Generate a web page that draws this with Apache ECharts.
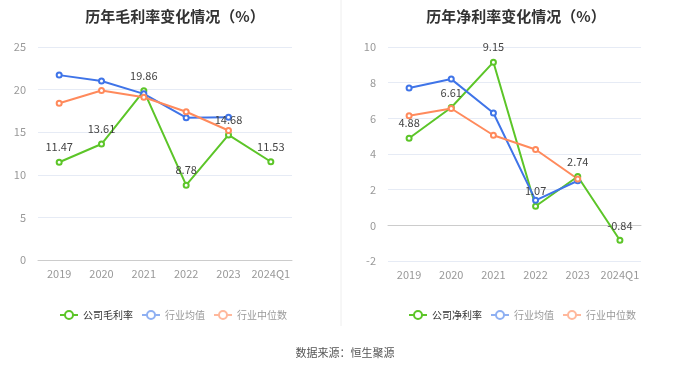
<!DOCTYPE html>
<html><head><meta charset="utf-8">
<script src="https://cdn.jsdelivr.net/npm/echarts@6/dist/echarts.min.js"></script>
<style>html,body{margin:0;padding:0;background:#fff}#c{width:680px;height:367px}</style>
</head><body><div id="c"></div>
<script>
const categories = ['2019','2020','2021','2022','2023','2024Q1'];
const grossCompany = [11.47, 13.61, 19.86, 8.78, 14.68, 11.53];
const grossAvg = [21.7, 21.0, 19.5, 16.7, 16.75, null];
const grossMedian = [18.4, 19.9, 19.1, 17.4, 15.2, null];
const netCompany = [4.88, 6.61, 9.15, 1.07, 2.74, -0.84];
const netAvg = [7.7, 8.2, 6.3, 1.4, 2.5, null];
const netMedian = [6.15, 6.55, 5.05, 4.25, 2.6, null];

const GREEN = '#5cc528', BLUE = '#3f74e8', ORANGE = '#ff8a5c';
const FONT = '"Noto Sans CJK SC", sans-serif';
const chart = echarts.init(document.getElementById('c'));

function mkSeries(name, data, color, xi, label) {
  return {
    name, type: 'line', data, xAxisIndex: xi, yAxisIndex: xi,
    symbol: 'emptyCircle', symbolSize: 5, showAllSymbol: true,
    lineStyle: {width: 2, color}, itemStyle: {color},
    label: label ? {show: true, position: 'top', color: '#444', fontSize: 11, fontFamily: FONT, distance: 6} : {show: false},
    emphasis: {disabled: true}
  };
}
function legendData(first) {
  return [
    {name: first, textStyle: {color: '#333'}},
    {name: '行业均值', textStyle: {color: '#999'}, itemStyle: {color: '#8fb0f2', borderColor: '#8fb0f2'}, lineStyle: {color: '#8fb0f2'}},
    {name: '行业中位数', textStyle: {color: '#999'}, itemStyle: {color: '#ffb89c', borderColor: '#ffb89c'}, lineStyle: {color: '#ffb89c'}}
  ];
}
const axisLabel = {color: '#999', fontSize: 11, fontFamily: FONT};
const xAxisBase = {type: 'category', data: categories, axisLine: {lineStyle: {color: '#ccc'}}, axisTick: {alignWithLabel: true, lineStyle: {color: '#ccc'}}, axisLabel: Object.assign({margin: 8, interval: 0}, axisLabel)};
const yAxisBase = {type: 'value', axisLabel: Object.assign({margin: 12}, axisLabel), splitLine: {lineStyle: {color: '#e6ebf5'}}, axisLine: {show: false}, axisTick: {show: false}};
const legendBase = {top: 305, width: 290, itemWidth: 18, itemHeight: 10, itemGap: 8, textStyle: {fontSize: 10, fontFamily: FONT}, selectedMode: false};

chart.setOption({
  animation: false,
  title: [
    {text: '历年毛利率变化情况（%）', left: 170, top: 4, textAlign: 'center', textStyle: {fontSize: 15, fontWeight: 'bold', color: '#333', fontFamily: FONT}},
    {text: '历年净利率变化情况（%）', left: 511, top: 4, textAlign: 'center', textStyle: {fontSize: 15, fontWeight: 'bold', color: '#333', fontFamily: FONT}},
    {text: '数据来源：恒生聚源', left: 340, top: 342, textAlign: 'center', textStyle: {fontSize: 11, fontWeight: 'normal', color: '#555', fontFamily: FONT}}
  ],
  legend: [
    Object.assign({left: 54, data: legendData('公司毛利率')}, legendBase),
    Object.assign({left: 403, data: legendData('公司净利率')}, legendBase)
  ],
  grid: [
    {left: 38, width: 254, top: 47, height: 213},
    {left: 388, width: 253, top: 47, height: 214}
  ],
  xAxis: [Object.assign({gridIndex: 0}, xAxisBase), Object.assign({gridIndex: 1}, xAxisBase)],
  yAxis: [
    Object.assign({gridIndex: 0, min: 0, max: 25, interval: 5}, yAxisBase),
    Object.assign({gridIndex: 1, min: -2, max: 10, interval: 2}, yAxisBase)
  ],
  graphic: [{type: 'line', shape: {x1: 341, y1: 0, x2: 341, y2: 326}, style: {stroke: '#eee', lineWidth: 1}}],
  series: [
    mkSeries('公司毛利率', grossCompany, GREEN, 0, true),
    mkSeries('行业均值', grossAvg, BLUE, 0, false),
    mkSeries('行业中位数', grossMedian, ORANGE, 0, false),
    mkSeries('公司净利率', netCompany, GREEN, 1, true),
    mkSeries('行业均值', netAvg, BLUE, 1, false),
    mkSeries('行业中位数', netMedian, ORANGE, 1, false)
  ]
});
</script></body></html>
